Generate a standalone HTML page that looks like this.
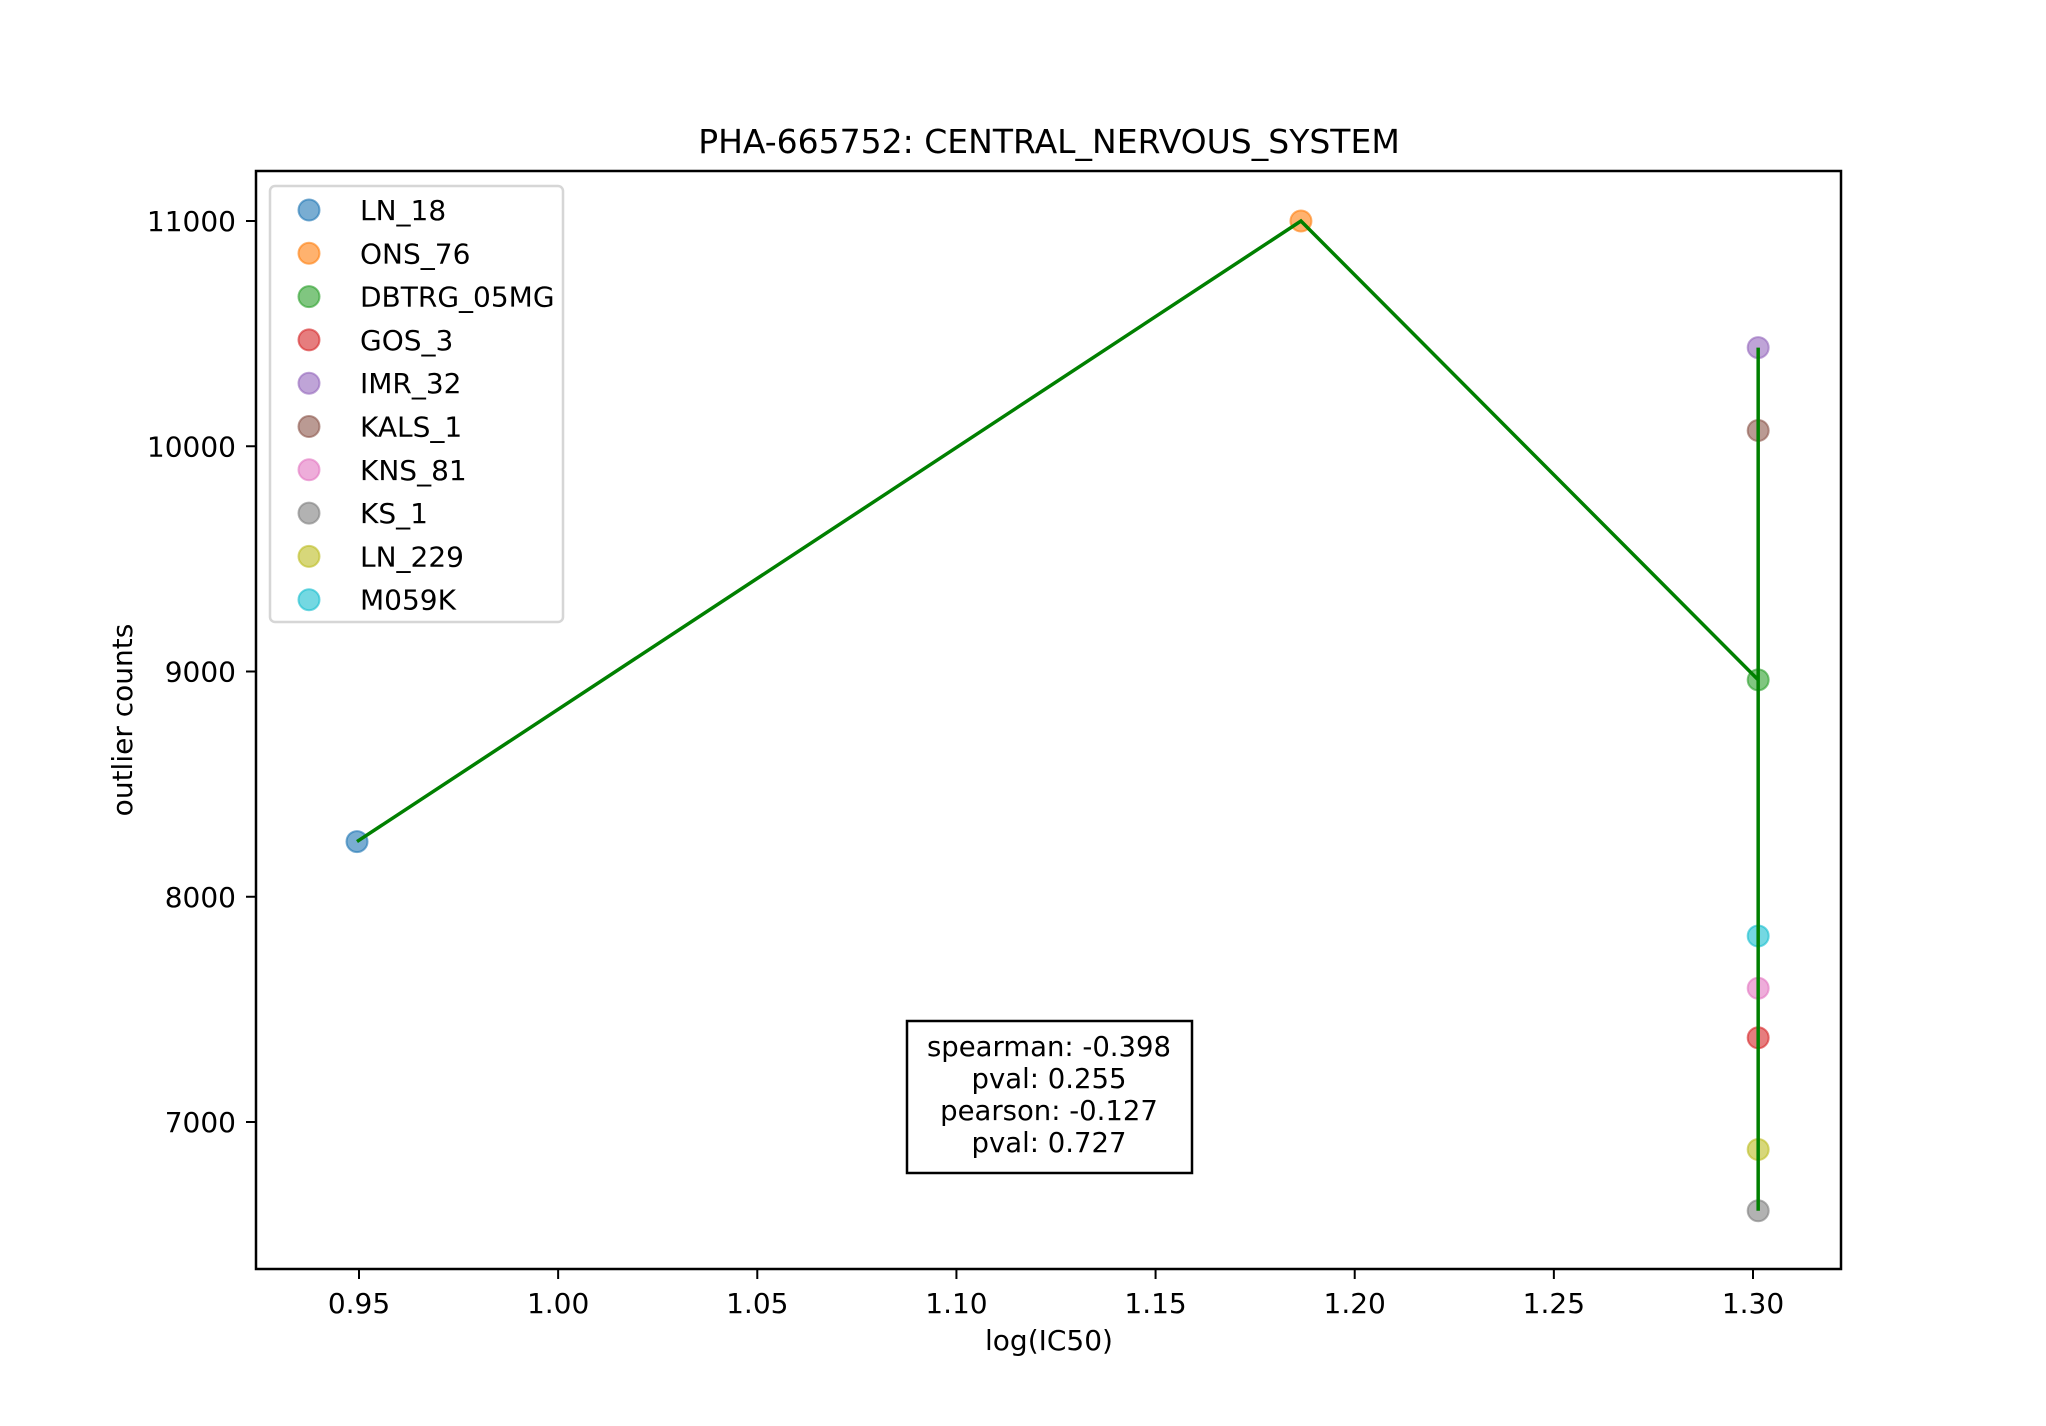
<!DOCTYPE html>
<html><head><meta charset="utf-8"><style>
html,body{margin:0;padding:0;background:#fff;}
svg{display:block;font-family:"DejaVu Sans","Liberation Sans",sans-serif;}
</style></head><body>
<svg id="chart" width="2046" height="1426" viewBox="0 0 2046 1426">
<rect x="0" y="0" width="2046" height="1426" fill="#fff"/>
<text x="1049" y="153" font-size="33" text-anchor="middle">PHA-665752: CENTRAL_NERVOUS_SYSTEM</text>
<g id="plot"></g>
<rect x="256" y="171" width="1585" height="1098" fill="none" stroke="#000" stroke-width="2.5"/>
<text x="1049" y="1350" font-size="28" text-anchor="middle">log(IC50)</text>
<text x="0" y="0" font-size="28" text-anchor="middle" transform="translate(132,720) rotate(-90)">outlier counts</text>
<g>
<rect x="907" y="1021" width="285" height="152" fill="#fff" stroke="#000" stroke-width="2.5"/>
<text x="1049" y="1056" font-size="27.5" text-anchor="middle">spearman: -0.398</text>
<text x="1049" y="1088" font-size="27.5" text-anchor="middle">pval: 0.255</text>
<text x="1049" y="1120" font-size="27.5" text-anchor="middle">pearson: -0.127</text>
<text x="1049" y="1152" font-size="27.5" text-anchor="middle">pval: 0.727</text>
</g>
<g id="legend"></g>
</svg>
<script>
const names = ["LN_18","ONS_76","DBTRG_05MG","GOS_3","IMR_32","KALS_1","KNS_81","KS_1","LN_229","M059K"];
const xVals = [0.9495,1.1865,1.3013,1.3013,1.3013,1.3013,1.3013,1.3013,1.3013,1.3013];
const yVals = [8245,11000,8963,7374,10438,10070,7594,6606,6878,7826];
const colors = ["#1f77b4","#ff7f0e","#2ca02c","#d62728","#9467bd","#8c564b","#e377c2","#7f7f7f","#bcbd22","#17becf"];
const xTicks = [0.95,1.00,1.05,1.10,1.15,1.20,1.25,1.30];
const xTickLabels = ["0.95","1.00","1.05","1.10","1.15","1.20","1.25","1.30"];
const yTicks = [7000,8000,9000,10000,11000];
const yTickLabels = ["7000","8000","9000","10000","11000"];

const NS = "http://www.w3.org/2000/svg";
const X = v => 359 + (v - 0.95) * (1394 / 0.35);
const Y = v => 1122 - (v - 7000) * (901 / 4000);
const plot = document.getElementById('plot');
function mk(tag, attrs, parent){const e=document.createElementNS(NS,tag);for(const k in attrs)e.setAttribute(k,attrs[k]);parent.appendChild(e);return e;}

xTicks.forEach((t,i)=>{
  const g=mk('g',{},plot);
  
  
  mk('line',{x1:X(t),x2:X(t),y1:1269,y2:1279,stroke:'#000','stroke-width':2},g);
  const tx=mk('text',{x:X(t),y:1313,'font-size':28,'text-anchor':'middle'},g);
  tx.textContent=xTickLabels[i];
});
yTicks.forEach((t,i)=>{
  const g=mk('g',{},plot);
  
  
  mk('line',{x1:246,x2:256,y1:Y(t),y2:Y(t),stroke:'#000','stroke-width':2},g);
  const tx=mk('text',{x:236,y:Y(t)+10,'font-size':28,'text-anchor':'end'},g);
  tx.textContent=yTickLabels[i];
});
names.forEach((n,i)=>{
  const c=mk('circle',{cx:X(xVals[i]),cy:Y(yVals[i]),r:10.5,fill:colors[i],'fill-opacity':0.6,stroke:colors[i],'stroke-opacity':0.6,'stroke-width':2},plot);
  
  
});
const pl=mk('polyline',{points:names.map((n,i)=>X(xVals[i])+','+Y(yVals[i])).join(' '),fill:'none',stroke:'#008000','stroke-width':3.5},plot);



const lg=document.getElementById('legend');
mk('rect',{x:270,y:186,width:293,height:436,rx:5,fill:'#fff',stroke:'#d6d6d6','stroke-width':2.5},lg);
names.forEach((n,i)=>{
  const y=210+i*43.3;
  const g=mk('g',{},lg);
  
  
  mk('circle',{cx:309,cy:y,r:10.5,fill:colors[i],'fill-opacity':0.6,stroke:colors[i],'stroke-opacity':0.6,'stroke-width':2},g);
  const t=mk('text',{x:360,y:y+10,'font-size':28},g);
  t.textContent=n;
});
</script>
</body></html>
